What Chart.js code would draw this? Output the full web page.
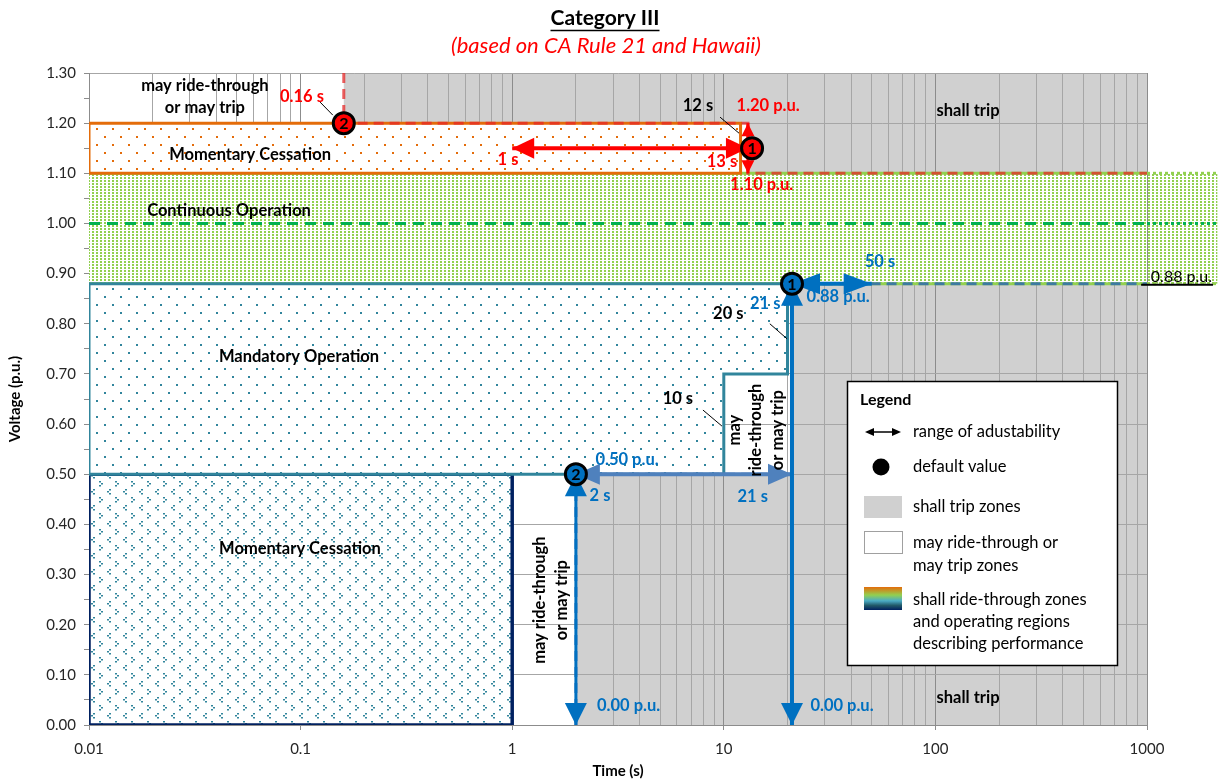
<!DOCTYPE html>
<html>
<head>
<meta charset="utf-8">
<title>Category III</title>
<script src="https://cdn.jsdelivr.net/npm/chart.js@4.4.1/dist/chart.umd.min.js"></script>
<style>
  body { margin: 0; background: #fff; }
  canvas { display: block; }
</style>
</head>
<body>
<canvas id="chart" width="1225" height="782"></canvas>
<script>
// axis ticks
const decades = [0.01, 0.1, 1, 10, 100, 1000];
const decadeLabels = ['0.01', '0.1', '1', '10', '100', '1000'];
const voltStep = 0.05;

// may ride-through or may trip zones (white)
const mayTopT = [0.01, 0.16, 0.16, 0.01];
const mayTopV = [1.30, 1.30, 1.20, 1.20];
const mayHighT = [12, 13, 13, 12];
const mayHighV = [1.20, 1.20, 1.10, 1.10];
const mayMidT = [10, 21, 21, 20, 20, 10];
const mayMidV = [0.50, 0.50, 0.88, 0.88, 0.70, 0.70];
const mayLowT = [1, 2, 2, 1];
const mayLowV = [0.00, 0.00, 0.50, 0.50];

// shall ride-through zones / operating regions
const contOpT = [0.01, 1000, 1000, 0.01, 0.01];
const contOpV = [1.10, 1.10, 0.88, 0.88, 1.10];
const contEdgeT = [0.01, 1000];
const contTopV = [1.10, 1.10];
const contBotV = [0.88, 0.88];
const contExtT = [1000, 2150];
const nominalV = [1.00, 1.00];
const momHighT = [0.01, 12, 12, 0.01, 0.01];
const momHighV = [1.20, 1.20, 1.10, 1.10, 1.20];
const mandT = [0.01, 20, 20, 10, 10, 0.01, 0.01];
const mandV = [0.88, 0.88, 0.70, 0.70, 0.50, 0.50, 0.88];
const momLowT = [0.01, 1, 1, 0.01, 0.01];
const momLowV = [0.50, 0.50, 0.00, 0.00, 0.50];

// default trip curves
const ovTripT = [0.16, 0.16, 13, 13, 1000];
const ovTripV = [1.30, 1.20, 1.20, 1.10, 1.10];
const uvTripT = [2, 2, 21, 21, 1000];
const uvTripV = [0.00, 0.50, 0.50, 0.88, 0.88];

// ranges of adjustability
const ovTimeT = [1, 13];      const ovTimeV = [1.15, 1.15];
const ovVoltT = [13, 13];     const ovVoltV = [1.10, 1.20];
const uv1VoltT = [21, 21];    const uv1VoltV = [0.00, 0.88];
const uv1TimeT = [21, 50];    const uv1TimeV = [0.88, 0.88];
const uv2VoltT = [2, 2];      const uv2VoltV = [0.00, 0.50];
const uv2TimeT = [2, 21];     const uv2TimeV = [0.50, 0.50];

// default values
const ovDefT = [13.6, 0.16];  const ovDefV = [1.15, 1.20];
const uvDefT = [21, 2];       const uvDefV = [0.88, 0.50];
const defLabels = ['1', '2'];

const FONT = 'Lato, "Open Sans", sans-serif';
const RED = '#ff0000';
const BLUE = '#0070c0';

const xTicks = [];
decades.forEach((d, i) => {
  if (i === decades.length - 1) { xTicks.push(d); return; }
  for (let m = 1; m < 10; m++) xTicks.push(+(d * m).toPrecision(3));
});
const isDecade = v => decades.some(d => Math.abs(v / d - 1) < 1e-6);

const pts = (ts, vs) => ts.map((t, i) => ({x: t, y: vs[i]}));

const canvas = document.getElementById('chart');
function makePattern(w, h, draw) {
  const c = document.createElement('canvas');
  c.width = w; c.height = h;
  const g = c.getContext('2d');
  g.fillStyle = '#ffffff';
  g.fillRect(0, 0, w, h);
  draw(g);
  return canvas.getContext('2d').createPattern(c, 'repeat');
}
const greenDots = makePattern(4, 3, g => { g.fillStyle = '#92d050'; g.fillRect(0, 0, 2, 2); });
const orangeDots = makePattern(16, 16, g => {
  g.fillStyle = '#e46c0a'; g.fillRect(0, 0, 2, 2); g.fillRect(8, 8, 2, 2);
});
const tealDots = makePattern(16, 16, g => {
  g.fillStyle = '#31859c'; g.fillRect(0, 0, 2, 2); g.fillRect(8, 8, 2, 2);
});
const chevrons = makePattern(16, 16, g => {
  g.fillStyle = '#31859c';
  g.fillRect(3, 1, 2, 1.5); g.fillRect(5, 3, 2, 1.5); g.fillRect(3, 5, 2, 1.5);
  g.fillRect(13, 9, 2, 1.5); g.fillRect(11, 11, 2, 1.5); g.fillRect(13, 13, 2, 1.5);
});

function region(ts, vs, fillStyle, border, width, order) {
  return {
    data: pts(ts, vs), showLine: true, fill: 'shape', backgroundColor: fillStyle,
    borderColor: border || 'transparent', borderWidth: width || 1, pointRadius: 0, order
  };
}
function line(ts, vs, color, width, dash, order, heads) {
  return {
    data: pts(ts, vs), showLine: true, fill: false, borderColor: color,
    borderWidth: width, borderDash: dash || [], pointRadius: 0, order, heads
  };
}
function markers(ts, vs, color) {
  return {
    data: pts(ts, vs), showLine: false, pointRadius: 10.5, pointBorderWidth: 3,
    pointBackgroundColor: color, pointBorderColor: '#000', order: 1, labels: defLabels
  };
}

const datasets = [
  region(contOpT, contOpV, greenDots, null, 1, 40),
  line(contEdgeT, contTopV, '#92d050', 3, [], 39),
  line(contEdgeT, contBotV, '#92d050', 3, [], 39),
  line(contEdgeT, nominalV, '#00b050', 3, [11, 7], 38),
  region(momHighT, momHighV, orangeDots, '#e46c0a', 3, 37),
  region(momLowT, momLowV, chevrons, '#002060', 3.5, 36),
  region(mandT, mandV, tealDots, '#31859c', 3, 35),
  line(ovTripT, ovTripV, 'rgba(230,40,40,0.75)', 3, [10, 6], 20),
  line(uvTripT, uvTripV, 'rgba(40,100,180,0.8)', 3, [10, 6], 20),
  line(ovTimeT, ovTimeV, RED, 4, [], 10, {start: true, end: true, len: 22, wid: 21}),
  line(ovVoltT, ovVoltV, RED, 3, [], 10, {start: true, end: true, len: 13, wid: 13}),
  line(uv1VoltT, uv1VoltV, BLUE, 4, [], 10, {start: true, end: true, len: 22, wid: 22}),
  line(uv1TimeT, uv1TimeV, BLUE, 4, [], 10, {start: true, end: true, len: 28, wid: 21}),
  line(uv2VoltT, uv2VoltV, BLUE, 3, [], 10, {start: true, end: true, len: 22, wid: 22}),
  line(uv2TimeT, uv2TimeV, '#4f81bd', 4, [], 10, {start: true, end: true, len: 24, wid: 21}),
  markers(ovDefT, ovDefV, RED),
  markers(uvDefT, uvDefV, BLUE)
];

// text notes anchored in data units (time, voltage)
const notes = [
  {lines: ['may ride-through', 'or may trip'], t: 0.0353, v: 1.253, color: '#000'},
  {lines: ['0.16 s'], t: 0.1015, v: 1.252, color: RED},
  {lines: ['Momentary Cessation'], t: 0.0577, v: 1.137, color: '#000'},
  {lines: ['12 s'], t: 7.55, v: 1.234, color: '#000'},
  {lines: ['1.20 p.u.'], t: 16.2, v: 1.234, color: RED},
  {lines: ['1 s'], t: 0.955, v: 1.127, color: RED},
  {lines: ['13 s'], t: 9.8, v: 1.123, color: RED},
  {lines: ['1.10 p.u.'], t: 15.1, v: 1.077, color: RED},
  {lines: ['shall trip'], t: 142.6, v: 1.224, color: '#000'},
  {lines: ['shall trip'], t: 142.6, v: 0.054, color: '#000'},
  {lines: ['Continuous Operation'], t: 0.0459, v: 1.025, color: '#000'},
  {lines: ['Mandatory Operation'], t: 0.0983, v: 0.734, color: '#000'},
  {lines: ['Momentary Cessation'], t: 0.0993, v: 0.351, color: '#000'},
  {lines: ['50 s'], t: 54.7, v: 0.923, color: BLUE},
  {lines: ['0.88 p.u.'], t: 34.7, v: 0.855, color: BLUE},
  {lines: ['21 s'], t: 15.7, v: 0.841, color: BLUE},
  {lines: ['20 s'], t: 10.5, v: 0.820, color: '#000'},
  {lines: ['10 s'], t: 6.07, v: 0.650, color: '#000'},
  {lines: ['0.50 p.u.'], t: 3.49, v: 0.530, color: BLUE},
  {lines: ['2 s'], t: 2.60, v: 0.457, color: BLUE},
  {lines: ['21 s'], t: 13.7, v: 0.455, color: BLUE},
  {lines: ['0.00 p.u.'], t: 3.55, v: 0.039, color: BLUE},
  {lines: ['0.00 p.u.'], t: 36.2, v: 0.039, color: BLUE},
  {lines: ['may', 'ride-through', 'or may trip'], t: 14.2, v: 0.588, color: '#000', rotate: true},
  {lines: ['may ride-through', 'or may trip'], t: 1.52, v: 0.249, color: '#000', rotate: true}
];
const leaders = [
  [0.1236, 1.242, 0.142, 1.216],
  [9.6, 1.212, 11.8, 1.180],
  [16.5, 0.800, 19.9, 0.770],
  [7.97, 0.628, 9.8, 0.596]
];

const zonesPlugin = {
  id: 'zones',
  beforeDraw(chart) {
    const {ctx, chartArea: a, scales: {x, y}} = chart;
    ctx.save();
    ctx.fillStyle = '#d0d0d0';
    ctx.fillRect(a.left, a.top, a.width, a.height);
    ctx.fillStyle = '#ffffff';
    [[mayTopT, mayTopV], [mayHighT, mayHighV], [mayMidT, mayMidV], [mayLowT, mayLowV]].forEach(([ts, vs]) => {
      ctx.beginPath();
      ts.forEach((t, i) => {
        const px = x.getPixelForValue(t), py = y.getPixelForValue(vs[i]);
        if (i) ctx.lineTo(px, py); else ctx.moveTo(px, py);
      });
      ctx.closePath();
      ctx.fill();
    });
    ctx.restore();
  }
};

const arrowPlugin = {
  id: 'arrows',
  afterDatasetDraw(chart, args) {
    const ds = chart.data.datasets[args.index];
    const ctx = chart.ctx;
    const el = args.meta.data;
    if (ds.heads) {
      const head = (tip, from) => {
        const dx = tip.x - from.x, dy = tip.y - from.y, d = Math.hypot(dx, dy);
        const ux = dx / d, uy = dy / d;
        const bx = tip.x - ux * ds.heads.len, by = tip.y - uy * ds.heads.len;
        const w = ds.heads.wid / 2;
        ctx.beginPath();
        ctx.moveTo(tip.x, tip.y);
        ctx.lineTo(bx - uy * w, by + ux * w);
        ctx.lineTo(bx + uy * w, by - ux * w);
        ctx.closePath();
        ctx.fill();
      };
      ctx.save();
      ctx.fillStyle = ds.borderColor;
      if (ds.heads.start) head(el[0], el[1]);
      if (ds.heads.end) head(el[el.length - 1], el[el.length - 2]);
      ctx.restore();
    }
    if (ds.labels) {
      ctx.save();
      ctx.font = 'bold 16px ' + FONT;
      ctx.fillStyle = '#000';
      ctx.textAlign = 'center';
      ctx.textBaseline = 'middle';
      el.forEach((p, i) => ctx.fillText(ds.labels[i], p.x, p.y + 1));
      ctx.restore();
    }
  }
};

const notesPlugin = {
  id: 'notes',
  afterDatasetsDraw(chart) {
    const {ctx, scales: {x, y}} = chart;
    ctx.save();
    ctx.strokeStyle = '#000';
    ctx.lineWidth = 1;
    leaders.forEach(([t1, v1, t2, v2]) => {
      ctx.beginPath();
      ctx.moveTo(x.getPixelForValue(t1), y.getPixelForValue(v1));
      ctx.lineTo(x.getPixelForValue(t2), y.getPixelForValue(v2));
      ctx.stroke();
    });
    ctx.font = 'bold 16.5px ' + FONT;
    ctx.textAlign = 'center';
    ctx.textBaseline = 'middle';
    notes.forEach(n => {
      const px = x.getPixelForValue(n.t), py = y.getPixelForValue(n.v);
      const lh = 21.5, off = (n.lines.length - 1) * lh / 2;
      ctx.save();
      ctx.translate(px, py);
      if (n.rotate) ctx.rotate(-Math.PI / 2);
      ctx.fillStyle = n.color;
      n.lines.forEach((s, i) => ctx.fillText(s, 0, i * lh - off));
      ctx.restore();
    });
    ctx.restore();
  }
};

const framePlugin = {
  id: 'frame',
  afterDraw(chart) {
    const {ctx, scales: {x, y}} = chart;
    ctx.save();
    // continuous operation band continues past the axis
    const x0 = x.getPixelForValue(contExtT[0]), x1 = x.getPixelForValue(contExtT[1]);
    const yTop = y.getPixelForValue(contTopV[0]), yBot = y.getPixelForValue(contBotV[0]);
    ctx.fillStyle = greenDots;
    ctx.fillRect(x0 + 1, yTop, x1 - x0 - 1, yBot - yTop);
    ctx.lineWidth = 3;
    ctx.setLineDash([3, 3]);
    ctx.strokeStyle = '#92d050';
    [yTop, yBot].forEach(py => { ctx.beginPath(); ctx.moveTo(x0, py); ctx.lineTo(x1, py); ctx.stroke(); });
    ctx.strokeStyle = '#00b050';
    const yNom = y.getPixelForValue(nominalV[0]);
    ctx.beginPath(); ctx.moveTo(x0, yNom); ctx.lineTo(x1, yNom); ctx.stroke();
    ctx.setLineDash([]);
    ctx.lineWidth = 2;
    ctx.strokeStyle = '#000';
    ctx.beginPath();
    ctx.moveTo(x.getPixelForValue(938), yBot + 1);
    ctx.lineTo(x.getPixelForValue(2050), yBot + 1);
    ctx.stroke();
    ctx.font = '16px ' + FONT;
    ctx.fillStyle = '#000';
    ctx.textAlign = 'right';
    ctx.textBaseline = 'alphabetic';
    ctx.fillText('0.88 p.u.', x.getPixelForValue(2028), yBot - 2);

    // titles
    ctx.textAlign = 'center';
    ctx.textBaseline = 'middle';
    ctx.font = 'bold 21px ' + FONT;
    ctx.fillText('Category III', 605, 18);
    const w = ctx.measureText('Category III').width;
    ctx.lineWidth = 1.5;
    ctx.beginPath(); ctx.moveTo(605 - w / 2, 30.5); ctx.lineTo(605 + w / 2, 30.5); ctx.stroke();
    ctx.font = 'italic 22px ' + FONT;
    ctx.fillStyle = RED;
    ctx.fillText('(based on CA Rule 21 and Hawaii)', 606, 46);

    // legend box
    const L = 847, T = 381;
    ctx.fillStyle = '#fff';
    ctx.fillRect(L, T, 270, 284);
    ctx.strokeStyle = '#000';
    ctx.lineWidth = 1.5;
    ctx.strokeRect(L + 0.5, T + 0.5, 270, 284);
    ctx.fillStyle = '#000';
    ctx.textAlign = 'left';
    ctx.font = 'bold 16px ' + FONT;
    ctx.fillText('Legend', L + 13, T + 19);
    ctx.font = '16.5px ' + FONT;
    const tx = L + 66;
    ctx.fillText('range of adustability', tx, T + 51);
    ctx.fillText('default value', tx, T + 86);
    ctx.fillText('shall trip zones', tx, T + 126);
    ctx.fillText('may ride-through or', tx, T + 162);
    ctx.fillText('may trip zones', tx, T + 185);
    ctx.fillText('shall ride-through zones', tx, T + 219);
    ctx.fillText('and operating regions', tx, T + 241);
    ctx.fillText('describing performance', tx, T + 263);
    // legend arrow
    const ay = T + 51;
    ctx.lineWidth = 1.5;
    ctx.beginPath(); ctx.moveTo(L + 22, ay); ctx.lineTo(L + 50, ay); ctx.stroke();
    ctx.beginPath(); ctx.moveTo(L + 18, ay); ctx.lineTo(L + 27, ay - 4); ctx.lineTo(L + 27, ay + 4); ctx.closePath(); ctx.fill();
    ctx.beginPath(); ctx.moveTo(L + 54, ay); ctx.lineTo(L + 45, ay - 4); ctx.lineTo(L + 45, ay + 4); ctx.closePath(); ctx.fill();
    // legend dot
    ctx.beginPath(); ctx.arc(L + 34, T + 86, 8.5, 0, Math.PI * 2); ctx.fill();
    // legend swatches
    ctx.fillStyle = '#d0d0d0';
    ctx.fillRect(L + 17, T + 115, 38, 22);
    ctx.fillStyle = '#fff';
    ctx.strokeStyle = '#a0a0a0';
    ctx.lineWidth = 1;
    ctx.fillRect(L + 17, T + 150, 38, 22);
    ctx.strokeRect(L + 17.5, T + 150.5, 38, 22);
    const grad = ctx.createLinearGradient(0, T + 206, 0, T + 229);
    grad.addColorStop(0, '#e46c0a');
    grad.addColorStop(0.35, '#92d050');
    grad.addColorStop(0.6, '#4bacc6');
    grad.addColorStop(0.8, '#215968');
    grad.addColorStop(1, '#002060');
    ctx.fillStyle = grad;
    ctx.fillRect(L + 17, T + 206, 38, 23);
    ctx.restore();
  }
};

new Chart(canvas, {
  type: 'scatter',
  data: {datasets},
  plugins: [zonesPlugin, arrowPlugin, notesPlugin, framePlugin],
  options: {
    responsive: false,
    animation: false,
    devicePixelRatio: 1,
    events: [],
    layout: {padding: {top: 73, right: 78, left: 0, bottom: 0}},
    plugins: {legend: {display: false}, tooltip: {enabled: false}},
    scales: {
      x: {
        type: 'logarithmic', min: 0.01, max: 1000,
        afterBuildTicks: s => { s.ticks = xTicks.map(v => ({value: v})); },
        afterFit: s => { s.height = 57; },
        ticks: {
          autoSkip: false, maxRotation: 0, padding: 10,
          font: {family: FONT, size: 15}, color: '#262626',
          callback: v => isDecade(v) ? decadeLabels[decades.findIndex(d => Math.abs(v / d - 1) < 1e-6)] : ''
        },
        grid: {
          color: c => isDecade(c.tick.value) ? '#8c8c8c' : '#a6a6a6',
          tickColor: c => isDecade(c.tick.value) ? '#8c8c8c' : 'transparent',
          tickLength: 5
        },
        border: {color: '#8c8c8c'},
        title: {display: true, text: 'Time (s)', font: {family: FONT, size: 15, weight: 'bold'}, color: '#000', padding: {top: 0, bottom: 2}}
      },
      y: {
        min: 0, max: 1.3,
        afterFit: s => { s.width = 89; },
        ticks: {
          stepSize: voltStep, autoSkip: false, padding: 8,
          font: {family: FONT, size: 15}, color: '#262626',
          callback: v => Math.round(v * 100) % 10 === 0 ? v.toFixed(2) : ''
        },
        grid: {
          color: c => Math.round(c.tick.value * 100) % 10 === 0 ? '#a6a6a6' : 'transparent',
          tickColor: '#8c8c8c',
          tickLength: 5
        },
        border: {color: '#8c8c8c'},
        title: {display: true, text: 'Voltage (p.u.)', font: {family: FONT, size: 15, weight: 'bold'}, color: '#000', padding: {top: 6, bottom: 0}}
      }
    }
  }
});
</script>
</body>
</html>
